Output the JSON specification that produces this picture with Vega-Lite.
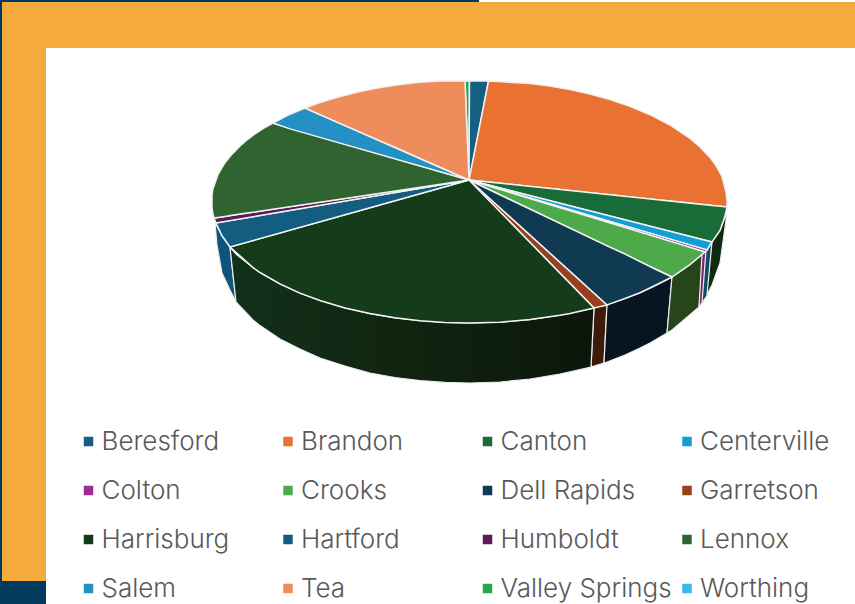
{
"$schema":"https://vega.github.io/schema/vega-lite/v6.json",
"width":855,"height":604,"padding":0,
"autosize":{"type":"fit","contains":"padding"},
"background":"white",
"view":{"stroke":null},
"datasets":{
"frame":[
{"part":"navy","x":0,"x2":479,"y":0,"y2":2},
{"part":"navy","x":0,"x2":2,"y":0,"y2":581},
{"part":"navy","x":0,"x2":46,"y":581,"y2":604},
{"part":"orange","x":2,"x2":855,"y":2,"y2":48},
{"part":"orange","x":2,"x2":46,"y":2,"y2":581}
],
"walls":[
{"town":"Hartford","x":215,"y":223,"y2":223},{"town":"Hartford","x":217,"y":226.5,"y2":245},{"town":"Hartford","x":222,"y":235.8,"y2":273},{"town":"Hartford","x":230,"y":247,"y2":290},{"town":"Hartford","x":236,"y":302,"y2":302},
{"town":"Garretson","x":591,"y":367,"y2":367},{"town":"Garretson","x":594,"y":308,"y2":366},{"town":"Garretson","x":604,"y":305.2,"y2":363},{"town":"Garretson","x":607,"y":304.5,"y2":304.5},
{"town":"Dell Rapids","x":604,"y":363,"y2":363},{"town":"Dell Rapids","x":607,"y":304.5,"y2":362},{"town":"Dell Rapids","x":625,"y":298.5,"y2":355},{"town":"Dell Rapids","x":640,"y":292.7,"y2":348},{"town":"Dell Rapids","x":650,"y":288.3,"y2":343},{"town":"Dell Rapids","x":667,"y":279.7,"y2":333},{"town":"Dell Rapids","x":672,"y":277,"y2":277},
{"town":"Crooks","x":667,"y":333,"y2":333},{"town":"Crooks","x":672,"y":277,"y2":330},{"town":"Crooks","x":685,"y":268,"y2":319},{"town":"Crooks","x":699,"y":257,"y2":307},{"town":"Crooks","x":704,"y":252,"y2":252},
{"town":"Colton","x":699,"y":307,"y2":307},{"town":"Colton","x":702,"y":254.6,"y2":303},{"town":"Colton","x":704,"y":252,"y2":302},{"town":"Colton","x":706,"y":250,"y2":250},
{"town":"Centerville","x":702,"y":303,"y2":303},{"town":"Centerville","x":706,"y":250,"y2":297},{"town":"Centerville","x":708,"y":248,"y2":294},{"town":"Centerville","x":712,"y":242,"y2":242},
{"town":"Canton","x":707,"y":295,"y2":295},{"town":"Canton","x":712,"y":242,"y2":285},{"town":"Canton","x":720,"y":230.5,"y2":263},{"town":"Canton","x":726,"y":214.6,"y2":220},{"town":"Canton","x":727,"y":207,"y2":207}
],
"harrisburgWall":[
{"x":230,"y":247,"y2":247},{"x":236,"y":254,"y2":302},{"x":253,"y":267.6,"y2":320},{"x":260,"y":272.5,"y2":325.6},{"x":280,"y":283.9,"y2":339},{"x":300,"y":293.1,"y2":349},{"x":320,"y":300.5,"y2":358},{"x":345,"y":307.9,"y2":366},{"x":370,"y":313.6,"y2":373},{"x":395,"y":317.8,"y2":377.5},{"x":420,"y":320.7,"y2":380.5},{"x":445,"y":322.4,"y2":382.4},{"x":470,"y":323,"y2":383},{"x":500,"y":322.2,"y2":382},{"x":530,"y":319.6,"y2":379},{"x":560,"y":315.2,"y2":374},{"x":591,"y":308.7,"y2":367},{"x":594,"y":308,"y2":308}
],
"slices":[
{"town":"Valley Springs","x":465,"y":81,"y2":81},{"town":"Valley Springs","x":469,"y":81,"y2":180},{"town":"Valley Springs","x":469.5,"y":81,"y2":81},
{"town":"Beresford","x":469,"y":180,"y2":180},{"town":"Beresford","x":469.5,"y":81,"y2":180},{"town":"Beresford","x":488.5,"y":81,"y2":81},
{"town":"Brandon","x":469,"y":180,"y2":180},{"town":"Brandon","x":488.5,"y":81,"y2":182},{"town":"Brandon","x":530,"y":83.4,"y2":186.4},{"town":"Brandon","x":550,"y":86.1,"y2":188.5},{"town":"Brandon","x":570,"y":89.6,"y2":190.6},{"town":"Brandon","x":590,"y":94.1,"y2":192.7},{"town":"Brandon","x":610,"y":99.6,"y2":194.8},{"town":"Brandon","x":630,"y":106.4,"y2":196.9},{"town":"Brandon","x":650,"y":114.7,"y2":199},{"town":"Brandon","x":670,"y":125,"y2":201},{"town":"Brandon","x":690,"y":138.4,"y2":203.1},{"town":"Brandon","x":700,"y":146.9,"y2":204.2},{"town":"Brandon","x":710,"y":157.5,"y2":205.2},{"town":"Brandon","x":716,"y":165.6,"y2":205.9},{"town":"Brandon","x":722,"y":176.5,"y2":206.5},{"town":"Brandon","x":726,"y":192,"y2":206.9},{"town":"Brandon","x":727,"y":200,"y2":207},
{"town":"Canton","x":469,"y":180,"y2":180},{"town":"Canton","x":712,"y":205.4,"y2":242},{"town":"Canton","x":720,"y":206.3,"y2":230.5},{"town":"Canton","x":725,"y":206.8,"y2":216},{"town":"Canton","x":727,"y":207,"y2":207},
{"town":"Centerville","x":469,"y":180,"y2":180},{"town":"Centerville","x":707,"y":240.7,"y2":250},{"town":"Centerville","x":712,"y":242,"y2":242},
{"town":"Colton","x":469,"y":180,"y2":180},{"town":"Colton","x":705,"y":249.4,"y2":252},{"town":"Colton","x":707,"y":250,"y2":250},
{"town":"Crooks","x":469,"y":180,"y2":180},{"town":"Crooks","x":672,"y":241.9,"y2":277},{"town":"Crooks","x":690,"y":247.4,"y2":264.6},{"town":"Crooks","x":699,"y":250.2,"y2":257},{"town":"Crooks","x":705,"y":252,"y2":252},
{"town":"Dell Rapids","x":469,"y":180,"y2":180},{"town":"Dell Rapids","x":607,"y":245.9,"y2":305},{"town":"Dell Rapids","x":625,"y":254,"y2":298.5},{"town":"Dell Rapids","x":640,"y":261.7,"y2":292.7},{"town":"Dell Rapids","x":655,"y":269,"y2":285.5},{"town":"Dell Rapids","x":672,"y":277,"y2":277},
{"town":"Garretson","x":469,"y":180,"y2":180},{"town":"Garretson","x":594,"y":293.2,"y2":308},{"town":"Garretson","x":607,"y":305,"y2":305},
{"town":"Harrisburg","x":230,"y":247,"y2":247},{"town":"Harrisburg","x":253,"y":240.6,"y2":267.6},{"town":"Harrisburg","x":260,"y":238.6,"y2":272.5},{"town":"Harrisburg","x":280,"y":233,"y2":283.9},{"town":"Harrisburg","x":300,"y":227.4,"y2":293.1},{"town":"Harrisburg","x":320,"y":221.8,"y2":300.5},{"town":"Harrisburg","x":345,"y":214.8,"y2":307.9},{"town":"Harrisburg","x":370,"y":207.8,"y2":313.6},{"town":"Harrisburg","x":395,"y":200.7,"y2":317.8},{"town":"Harrisburg","x":420,"y":193.7,"y2":320.7},{"town":"Harrisburg","x":445,"y":186.7,"y2":322.4},{"town":"Harrisburg","x":469,"y":180,"y2":323},{"town":"Harrisburg","x":500,"y":211.7,"y2":322.2},{"town":"Harrisburg","x":530,"y":242.5,"y2":319.6},{"town":"Harrisburg","x":560,"y":273.2,"y2":315.2},{"town":"Harrisburg","x":570,"y":283.4,"y2":313.4},{"town":"Harrisburg","x":594,"y":308,"y2":308},
{"town":"Hartford","x":216,"y":223,"y2":223},{"town":"Hartford","x":222,"y":222,"y2":235.8},{"town":"Hartford","x":230,"y":220.6,"y2":247},{"town":"Hartford","x":469,"y":180,"y2":180},
{"town":"Humboldt","x":214,"y":218,"y2":218},{"town":"Humboldt","x":216,"y":217.7,"y2":223},{"town":"Humboldt","x":469,"y":180,"y2":180},
{"town":"Lennox","x":212,"y":195,"y2":208},{"town":"Lennox","x":213,"y":188.5,"y2":214.5},{"town":"Lennox","x":214,"y":186,"y2":218},{"town":"Lennox","x":218,"y":174.4,"y2":217.4},{"town":"Lennox","x":225,"y":162.7,"y2":216.4},{"town":"Lennox","x":232,"y":154.1,"y2":215.3},{"town":"Lennox","x":240,"y":146,"y2":214.1},{"town":"Lennox","x":247,"y":140,"y2":213.1},{"town":"Lennox","x":255,"y":134,"y2":212},{"town":"Lennox","x":263,"y":128.6,"y2":210.7},{"town":"Lennox","x":273,"y":123,"y2":209.2},{"town":"Lennox","x":469,"y":180,"y2":180},
{"town":"Salem","x":273,"y":123,"y2":123},{"town":"Salem","x":290,"y":114.2,"y2":128.9},{"town":"Salem","x":305,"y":108,"y2":133.1},{"town":"Salem","x":469,"y":180,"y2":180},
{"town":"Tea","x":305,"y":108,"y2":108},{"town":"Tea","x":320,"y":102.5,"y2":114.6},{"town":"Tea","x":340,"y":96.5,"y2":123.4},{"town":"Tea","x":360,"y":91.5,"y2":132.1},{"town":"Tea","x":380,"y":87.5,"y2":140.9},{"town":"Tea","x":400,"y":84.5,"y2":149.5},{"town":"Tea","x":420,"y":82.3,"y2":158.5},{"town":"Tea","x":440,"y":81,"y2":167.3},{"town":"Tea","x":465,"y":81,"y2":178.2},{"town":"Tea","x":469,"y":180,"y2":180}
]
},
"layer":[
{"data":{"name":"frame"},"mark":{"type":"rect"},
 "encoding":{
  "x":{"field":"x","type":"quantitative","scale":{"domain":[0,855],"nice":false,"zero":false},"axis":null},
  "x2":{"field":"x2"},
  "y":{"field":"y","type":"quantitative","scale":{"domain":[604,0],"nice":false,"zero":false},"axis":null},
  "y2":{"field":"y2"},
  "color":{"field":"part","type":"nominal","scale":{"domain":["navy","orange"],"range":["#023A5C","#F4AA3C"]},"legend":null}}},
{"data":{"name":"walls"},"mark":{"type":"area","stroke":"#EDEDED","strokeWidth":1.2},
 "encoding":{
  "x":{"field":"x","type":"quantitative","axis":null},
  "y":{"field":"y","type":"quantitative","axis":null},
  "y2":{"field":"y2"},
  "color":{"field":"town","type":"nominal","scale":{"domain":["Hartford","Garretson","Dell Rapids","Crooks","Colton","Centerville","Canton"],"range":["#0F547A","#3E1A0A","#06151F","#26451A","#7A2570","#134A6A","#0F2A10"]},"legend":null}}},
{"data":{"name":"harrisburgWall"},
 "mark":{"type":"area","stroke":"#EDEDED","strokeWidth":1.2,"fill":{"gradient":"linear","x1":0,"y1":0,"x2":1,"y2":0,"stops":[{"offset":0,"color":"#12301A"},{"offset":0.5,"color":"#10240F"},{"offset":1,"color":"#0B160B"}]}},
 "encoding":{
  "x":{"field":"x","type":"quantitative","axis":null},
  "y":{"field":"y","type":"quantitative","axis":null},
  "y2":{"field":"y2"}}},
{"data":{"name":"slices"},"mark":{"type":"area","stroke":"#F2F2F2","strokeWidth":1.5},
 "encoding":{
  "x":{"field":"x","type":"quantitative","axis":null},
  "y":{"field":"y","type":"quantitative","axis":null},
  "y2":{"field":"y2"},
  "color":{"field":"town","type":"nominal",
   "scale":{"domain":["Beresford","Brandon","Canton","Centerville","Colton","Crooks","Dell Rapids","Garretson","Harrisburg","Hartford","Humboldt","Lennox","Salem","Tea","Valley Springs","Worthing"],
    "range":["#156082","#E97132","#196B38","#0F9ED5","#A02B93","#4EA94B","#0F3A52","#96401E","#143C1B","#125D80","#5F1A5A","#2F6430","#2490C3","#EE8C5B","#29A84A","#38B8EE"]},
   "legend":{"title":null,"orient":"none","legendX":75.5,"legendY":428.5,"direction":"horizontal","columns":4,"padding":0,"symbolType":"square","symbolSize":90,"symbolStrokeWidth":0,"labelFont":"Inter","labelFontSize":26,"labelFontWeight":300,"labelColor":"#595959","labelLimit":400,"labelOffset":0,"columnPadding":1.5,"rowPadding":23,"gridAlign":"all"}}}}
],
"resolve":{"scale":{"color":"independent"}}
}
